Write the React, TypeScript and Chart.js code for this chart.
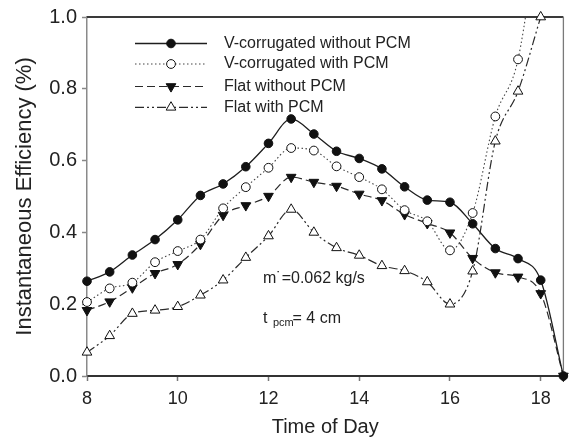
import React, { useEffect, useRef } from "react";
import { Chart, registerables } from "chart.js";

Chart.register(...registerables);

// ---------- data ----------
const hours = [8, 8.5, 9, 9.5, 10, 10.5, 11, 11.5, 12, 12.5, 13, 13.5, 14, 14.5, 15, 15.5, 16, 16.5, 17, 17.5, 18, 18.5];
const vCorrNoPcm = [0.264, 0.29, 0.337, 0.38, 0.435, 0.503, 0.535, 0.583, 0.648, 0.716, 0.674, 0.626, 0.606, 0.577, 0.527, 0.49, 0.484, 0.424, 0.355, 0.327, 0.267, 0.0];
const vCorrPcm = [0.206, 0.244, 0.26, 0.317, 0.348, 0.38, 0.467, 0.526, 0.58, 0.635, 0.628, 0.584, 0.554, 0.52, 0.462, 0.431, 0.35, 0.454, 0.723, 0.882, 1.3, null];
const flatNoPcm = [0.183, 0.207, 0.246, 0.286, 0.311, 0.367, 0.448, 0.475, 0.501, 0.554, 0.54, 0.529, 0.507, 0.489, 0.45, 0.425, 0.399, 0.328, 0.288, 0.276, 0.23, 0.0];
const flatPcm = [0.066, 0.112, 0.174, 0.183, 0.193, 0.225, 0.267, 0.33, 0.39, 0.464, 0.4, 0.357, 0.336, 0.307, 0.293, 0.262, 0.2, 0.292, 0.654, 0.793, 1.0, null];
const seriesNames = ["V-corrugated without PCM", "V-corrugated with PCM", "Flat without PCM", "Flat with PCM"];
const xTicks = [8, 10, 12, 14, 16, 18];
const yTicks = [0, 0.2, 0.4, 0.6, 0.8, 1.0];
const xTitle = "Time of Day";
const yTitle = "Instantaneous Efficiency (%)";
const flowNote = "m\u02D9=0.062 kg/s";
const thickMain = "t";
const thickSub = "pcm";
const thickRest = "= 4 cm";

const FONT = "'Liberation Sans', Arial, Helvetica, sans-serif";
const INK = "#222";

type Style = {
  dash: number[];
  width: number;
  color: string;
  marker: "circle" | "triangle";
  rot: number;
  fill: string;
  r: number;
};

const styles: Style[] = [
  { dash: [], width: 1.3, color: "#1e1e1e", marker: "circle", rot: 0, fill: "#111", r: 4.3 },
  { dash: [1.5, 2.5], width: 1.1, color: "#444", marker: "circle", rot: 0, fill: "#fff", r: 4.4 },
  { dash: [8, 4], width: 1.2, color: "#2a2a2a", marker: "triangle", rot: 180, fill: "#111", r: 5.6 },
  { dash: [9, 3, 2, 3, 2, 3], width: 1.2, color: "#2a2a2a", marker: "triangle", rot: 0, fill: "#fff", r: 5.6 },
];

const allSeries = [vCorrNoPcm, vCorrPcm, flatNoPcm, flatPcm];

function drawMarker(ctx: CanvasRenderingContext2D, s: Style, x: number, y: number) {
  ctx.save();
  ctx.setLineDash([]);
  ctx.lineWidth = 1;
  ctx.strokeStyle = "#111";
  ctx.fillStyle = s.fill;
  ctx.beginPath();
  if (s.marker === "circle") {
    ctx.arc(x, y, s.r, 0, Math.PI * 2);
  } else {
    let rad = (s.rot * Math.PI) / 180;
    const step = (2 * Math.PI) / 3;
    ctx.moveTo(x + Math.sin(rad) * s.r, y - Math.cos(rad) * s.r);
    rad += step;
    ctx.lineTo(x + Math.sin(rad) * s.r, y - Math.cos(rad) * s.r);
    rad += step;
    ctx.lineTo(x + Math.sin(rad) * s.r, y - Math.cos(rad) * s.r);
    ctx.closePath();
  }
  ctx.fill();
  ctx.stroke();
  ctx.restore();
}

const framePlugin = {
  id: "frame",
  beforeDatasetsDraw(chart: any) {
    const { ctx, chartArea } = chart;
    const { left, right, top, bottom } = chartArea;
    ctx.save();
    ctx.strokeStyle = "#3a3a3a";
    ctx.lineWidth = 2;
    ctx.beginPath();
    ctx.moveTo(left, top);
    ctx.lineTo(right, top);
    ctx.stroke();
    ctx.strokeStyle = "#7a7a7a";
    ctx.lineWidth = 1.3;
    ctx.beginPath();
    ctx.moveTo(right, top);
    ctx.lineTo(right, bottom);
    ctx.stroke();
    ctx.restore();
  },
};

const legendPlugin = {
  id: "customLegend",
  afterDraw(chart: any) {
    const { ctx } = chart;
    const rows = [43.5, 64, 86.5, 107.3];
    ctx.save();
    seriesNames.forEach((name, i) => {
      const s = styles[i];
      const y = rows[i];
      ctx.save();
      ctx.strokeStyle = s.color;
      ctx.lineWidth = s.width;
      ctx.setLineDash(s.dash);
      ctx.beginPath();
      ctx.moveTo(135, y);
      ctx.lineTo(207, y);
      ctx.stroke();
      ctx.restore();
      drawMarker(ctx, s, 171, y);
      ctx.fillStyle = INK;
      ctx.font = `16px ${FONT}`;
      ctx.textBaseline = "middle";
      ctx.textAlign = "left";
      ctx.fillText(name, 224, y);
    });
    // annotations
    ctx.fillStyle = INK;
    ctx.textBaseline = "alphabetic";
    ctx.textAlign = "left";
    ctx.font = `16px ${FONT}`;
    ctx.fillText(flowNote, 263, 283);
    ctx.fillText(thickMain, 263, 323);
    ctx.font = `11px ${FONT}`;
    ctx.fillText(thickSub, 273, 326);
    ctx.font = `16px ${FONT}`;
    ctx.fillText(thickRest, 292.5, 323);
    ctx.restore();
  },
};

export default function App() {
  const ref = useRef<HTMLCanvasElement>(null);

  useEffect(() => {
    if (!ref.current) return;
    const datasets = allSeries.map((arr, i) => {
      const s = styles[i];
      return {
        label: seriesNames[i],
        data: arr.map((v, j) => ({ x: hours[j], y: v })),
        borderColor: s.color,
        borderWidth: s.width,
        borderDash: s.dash,
        pointStyle: s.marker,
        pointRotation: s.rot,
        pointRadius: s.r,
        pointBackgroundColor: s.fill,
        pointBorderColor: "#111",
        pointBorderWidth: 1,
        cubicInterpolationMode: "monotone" as const,
        tension: 0.4,
        fill: false,
        spanGaps: false,
        clip: i === 1 ? { left: 10, right: 10, bottom: 10, top: 0 } : (false as any),
      };
    });

    const chart = new Chart(ref.current, {
      type: "line",
      data: { datasets },
      options: {
        responsive: false,
        animation: false,
        events: [],
        layout: { padding: { top: 16, right: 3, left: 0, bottom: 0 } },
        plugins: {
          legend: { display: false },
          tooltip: { enabled: false },
        },
        scales: {
          x: {
            type: "linear",
            min: 8,
            max: 18.5,
            afterFit: (s: any) => {
              s.height = 65;
            },
            afterBuildTicks: (s: any) => {
              s.ticks = xTicks.map((v) => ({ value: v }));
            },
            ticks: {
              font: { family: FONT, size: 18 },
              color: INK,
              padding: 7,
              maxRotation: 0,
              callback: (v: any) => String(v),
            },
            grid: {
              drawOnChartArea: false,
              drawTicks: true,
              tickLength: 5,
              tickColor: "#777",
              tickWidth: 1.5,
            },
            border: { display: true, color: "#333", width: 2 },
            title: {
              display: true,
              text: xTitle,
              font: { family: FONT, size: 20 },
              color: INK,
              padding: { top: 0, bottom: 2 },
            },
          },
          y: {
            type: "linear",
            min: 0,
            max: 1,
            afterFit: (s: any) => {
              s.width = 87;
            },
            afterBuildTicks: (s: any) => {
              s.ticks = yTicks.map((v) => ({ value: v }));
            },
            ticks: {
              font: { family: FONT, size: 20 },
              color: INK,
              padding: 5,
              callback: (v: any) => Number(v).toFixed(1),
            },
            grid: {
              drawOnChartArea: false,
              drawTicks: true,
              tickLength: 5,
              tickColor: "#888",
              tickWidth: 1.5,
            },
            border: { display: true, color: "#8a8a8a", width: 1.5 },
            title: {
              display: true,
              text: yTitle,
              font: { family: FONT, size: 22 },
              color: INK,
              padding: { top: 12, bottom: 0 },
            },
          },
        },
      },
      plugins: [framePlugin, legendPlugin],
    } as any);

    return () => chart.destroy();
  }, []);

  return (
    <div style={{ position: "absolute", left: 0, top: 0, width: 570, height: 441, background: "#fff" }}>
      <canvas ref={ref} width={570} height={441} style={{ display: "block" }} />
    </div>
  );
}
